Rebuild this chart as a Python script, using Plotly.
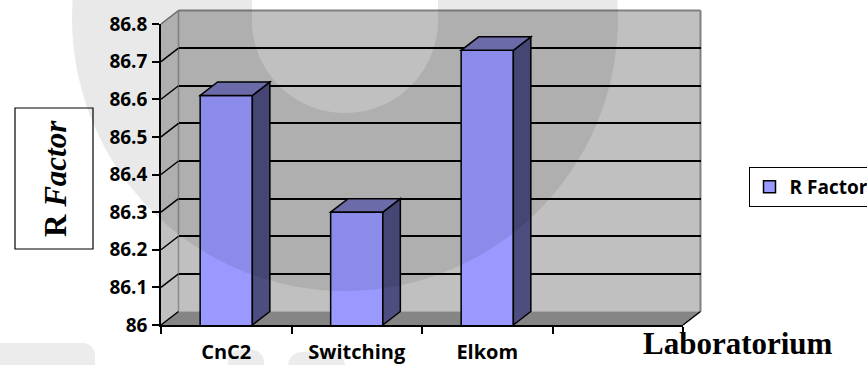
import numpy as np
import plotly.graph_objects as go

# ---------------- data ----------------
categories = ["CnC2", "Switching", "Elkom"]
category_slots = ["CnC2", "Switching", "Elkom", " "]
r_factor = [86.61, 86.30, 86.73]
y_tick_values = [86.0, 86.1, 86.2, 86.3, 86.4, 86.5, 86.6, 86.7, 86.8]
y_tick_labels = ["86", "86.1", "86.2", "86.3", "86.4", "86.5", "86.6", "86.7", "86.8"]
grid_values = [86.1, 86.2, 86.3, 86.4, 86.5, 86.6, 86.7]
series_name = "R Factor"
x_title = "Laboratorium"
y_title = "<b>R <i>Factor</i></b>"

# ---------------- geometry (pixels) ----------------
W, H = 867, 365
Y_MIN, Y_MAX = 86.0, 86.8
FX0, FX1 = 161.0, 683.0      # front plane left/right
FY_BOT, FY_TOP = 325.0, 24.0  # front plane bottom/top
DX, DY = 17.5, 13.5           # depth offset of 3-D box
BAR_W = 0.4
N = len(category_slots)

FRONT = "#9999ff"
SIDE = "#4d4d80"
TOP = "#7676bb"
WALL = "#c0c0c0"
FLOOR = "#858585"
TICK_FONT = "Open Sans"


def px(x):
    return x / W


def py(y):
    return 1 - y / H


def cat_px(c):
    return FX0 + (c + 0.5) * (FX1 - FX0) / N


def val_py(v):
    return FY_BOT - (v - Y_MIN) / (Y_MAX - Y_MIN) * (FY_BOT - FY_TOP)


def path(*polys):
    s = ""
    for pts in polys:
        s += "M" + " L".join(f"{px(x):.5f},{py(y):.5f}" for x, y in pts) + " Z "
    return s.strip()


def line(x0, y0, x1, y1, color, width, layer="below"):
    return dict(type="line", xref="paper", yref="paper", x0=px(x0), y0=py(y0),
                x1=px(x1), y1=py(y1), line=dict(color=color, width=width), layer=layer)


def poly(pts, fill, lw=0, lc="black", layer="below"):
    return dict(type="path", xref="paper", yref="paper", path=path(pts),
                fillcolor=fill, line=dict(color=lc, width=lw), layer=layer)


shapes = []
bx0, bx1 = FX0 + DX, FX1 + DX
by0, by1 = FY_TOP - DY, FY_BOT - DY
# back wall, side wall, floor
shapes.append(poly([(bx0, by0), (bx1, by0), (bx1, by1), (bx0, by1)], WALL))
shapes.append(poly([(FX0, FY_TOP), (bx0, by0), (bx0, by1), (FX0, FY_BOT)], WALL))
shapes.append(poly([(FX0, FY_BOT), (FX1, FY_BOT), (bx1, by1), (bx0, by1)], FLOOR))
# edges
shapes.append(line(bx0, by0, bx0, by1, "#8c8c8c", 1.5))
shapes.append(line(bx0, by0, bx1, by0, "#808080", 2))
shapes.append(line(bx1, by0, bx1, by1, "#808080", 2))
shapes.append(line(bx0, by1, bx1, by1, "#a8a8a8", 1))
shapes.append(line(FX1, FY_BOT, bx1, by1, "black", 1.5))
for v in y_tick_values:
    col = "#707070" if v == Y_MAX else "black"
    shapes.append(line(FX0, val_py(v), FX0 + DX, val_py(v) - DY, col, 1.5))

# 3-D faces of bars
for i, v in enumerate(r_factor):
    xl, xr = cat_px(i - BAR_W / 2), cat_px(i + BAR_W / 2)
    yt, yb = val_py(v), val_py(Y_MIN)
    shapes.append(poly([(xr, yb), (xr + DX, yb - DY), (xr + DX, yt - DY), (xr, yt)],
                       SIDE, 1.5, layer="above"))
    shapes.append(poly([(xl, yt), (xr, yt), (xr + DX, yt - DY), (xl + DX, yt - DY)],
                       TOP, 1.5, layer="above"))

# y-title box
shapes.append(dict(type="rect", xref="paper", yref="paper", x0=px(15), x1=px(93),
                   y0=py(249), y1=py(108), fillcolor="white",
                   line=dict(color="black", width=1.2), layer="above"))

# faint watermark (ring with U-shaped cut-out)
th = np.linspace(0, 2 * np.pi, 160)
outer = [(345 + 273 * np.cos(t), 18 + 273 * np.sin(t)) for t in th]
ang = np.linspace(0, np.pi, 80)
inner = [(438, -30)] + [(345 + 93 * np.cos(t), 20 + 93 * np.sin(t)) for t in ang] + [(252, -30)]
shapes.append(dict(type="path", xref="paper", yref="paper", path=path(outer, inner),
                   fillcolor="rgba(0,0,0,0.085)", fillrule="evenodd",
                   line=dict(width=0), layer="above"))


# small rounded watermark blobs at the bottom
def blob(x0, y0, x1, y1, r):
    pts = []
    for cx, cy, a0 in [(x1 - r, y0 + r, -np.pi / 2), (x0 + r, y0 + r, -np.pi)]:
        for t in np.linspace(a0, a0 + np.pi / 2, 12) if cx == x1 - r else np.linspace(-np.pi / 2, -np.pi, 12):
            pts.append((cx + r * np.cos(t), cy + r * np.sin(t)))
    pts = ([(x1 - r + r * np.cos(t), y0 + r + r * np.sin(t)) for t in np.linspace(0, -np.pi / 2, 12)] +
           [(x0 + r + r * np.cos(t), y0 + r + r * np.sin(t)) for t in np.linspace(-np.pi / 2, -np.pi, 12)] +
           [(x0, y1), (x1, y1)])
    return dict(type="path", xref="paper", yref="paper", path=path(pts),
                fillcolor="rgba(0,0,0,0.075)", line=dict(width=0), layer="above")


for b in [(-20, 343, 95, 400, 12), (228, 350, 264, 400, 12), (288, 352, 345, 400, 14)]:
    shapes.append(blob(*b))

fig = go.Figure()
fig.add_trace(go.Scatter(x=[None], y=[None], xaxis="x", yaxis="y", showlegend=False,
                         hoverinfo="skip", mode="markers"))
fig.add_trace(go.Bar(x=categories, y=r_factor, name=series_name, xaxis="x2", yaxis="y2",
                     width=BAR_W, showlegend=True,
                     marker=dict(color=FRONT, line=dict(color="black", width=1.5))))

ytickfont = dict(family=TICK_FONT, size=19, color="black", weight="bold")
xtickfont = dict(family=TICK_FONT, size=20, color="black", weight="bold")
fig.update_layout(
    width=W, height=H,
    margin=dict(l=0, r=0, t=0, b=0, autoexpand=False),
    paper_bgcolor="white", plot_bgcolor="rgba(0,0,0,0)",
    font=dict(family=TICK_FONT, color="black"),
    xaxis=dict(domain=[px(bx0), px(bx1)], range=[-0.5, 3.5], showgrid=False,
               showticklabels=False, ticks="", zeroline=False, showline=False,
               anchor="y", fixedrange=True),
    yaxis=dict(domain=[py(by1), py(by0)], range=[Y_MIN, Y_MAX], showgrid=True,
               gridcolor="black", gridwidth=1.6, tickvals=grid_values,
               showticklabels=False, ticks="", zeroline=False, showline=False,
               anchor="x", fixedrange=True),
    xaxis2=dict(domain=[px(FX0), px(FX1)], type="category", categoryorder="array",
                categoryarray=category_slots, range=[-0.5, 3.5], tickson="boundaries",
                ticks="outside", ticklen=7, tickwidth=1.5, tickcolor="black",
                showline=True, linecolor="black", linewidth=1.6, showgrid=False,
                zeroline=False, anchor="y2", tickfont=xtickfont, ticklabelstandoff=8,
                fixedrange=True),
    yaxis2=dict(domain=[py(FY_BOT), py(FY_TOP)], range=[Y_MIN, Y_MAX],
                tickvals=y_tick_values, ticktext=y_tick_labels, ticks="outside",
                ticklen=7, tickwidth=1.5, tickcolor="black", showline=True,
                linecolor="black", linewidth=1.6, showgrid=False, zeroline=False,
                anchor="x2", tickfont=ytickfont, ticklabelstandoff=1, fixedrange=True),
    legend=dict(x=px(748.5), y=py(167), xanchor="left", yanchor="top",
                bgcolor="white", bordercolor="black", borderwidth=1,
                font=dict(family=TICK_FONT, size=19, color="black", weight="bold")),
    shapes=shapes,
    annotations=[
        dict(text=f"<b>{x_title}</b>", x=px(738), y=py(343), xref="paper", yref="paper",
             showarrow=False, xanchor="center", yanchor="middle",
             font=dict(family="Liberation Serif", size=31, color="black")),
        dict(text=y_title, x=px(55), y=py(178), xref="paper", yref="paper",
             showarrow=False, textangle=-90, xanchor="center", yanchor="middle",
             font=dict(family="Liberation Serif", size=31, color="black")),
    ],
)

fig.write_html("out.html")
